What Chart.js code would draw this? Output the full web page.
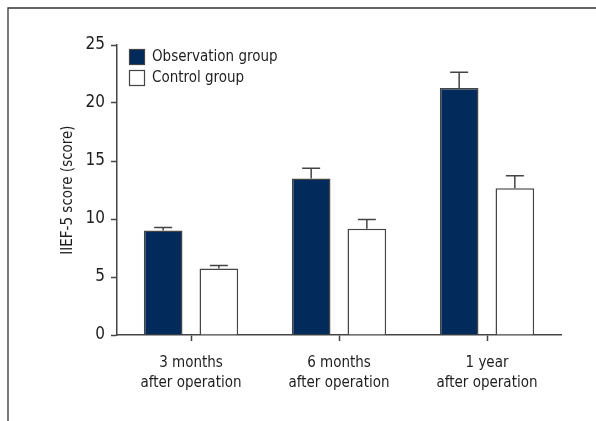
<!DOCTYPE html>
<html>
<head>
<meta charset="utf-8">
<script src="https://cdn.jsdelivr.net/npm/chart.js@4"></script>
<style>
  html, body { margin: 0; padding: 0; background: #fff; }
  #wrap { position: relative; width: 596px; height: 421px; }
</style>
</head>
<body>
<div id="wrap"><canvas id="c" width="596" height="421"></canvas></div>
<script>
const categories = [["3 months", "after operation"], ["6 months", "after operation"], ["1 year", "after operation"]];
const seriesNames = ["Observation group", "Control group"];
const observationValues = [9.0, 13.5, 21.3];
const observationErrors = [0.27, 0.87, 1.36];
const controlValues = [5.73, 9.15, 12.65];
const controlErrors = [0.26, 0.8, 1.07];
const yTicks = [0, 5, 10, 15, 20, 25];

const FONT = "'Liberation Sans Narrow', 'DejaVu Sans Condensed', 'Roboto Condensed', sans-serif";
const TEXT = '#1e1e1e';
const LINE = '#444';
const NAVY = '#022a5b';

const errorBars = {
  id: 'errorBars',
  afterDatasetsDraw(chart) {
    const ctx = chart.ctx;
    const y = chart.scales.y;
    ctx.save();
    ctx.strokeStyle = LINE;
    ctx.lineWidth = 1.5;
    chart.data.datasets.forEach((ds, di) => {
      const meta = chart.getDatasetMeta(di);
      meta.data.forEach((bar, i) => {
        const top = y.getPixelForValue(ds.data[i] + ds.errors[i]);
        const base = y.getPixelForValue(ds.data[i]);
        ctx.beginPath();
        ctx.moveTo(bar.x, base);
        ctx.lineTo(bar.x, top);
        ctx.moveTo(bar.x - 9, top);
        ctx.lineTo(bar.x + 9, top);
        ctx.stroke();
      });
    });
    ctx.restore();
  }
};

const frameAndLegend = {
  id: 'frameAndLegend',
  beforeDraw(chart) {
    const ctx = chart.ctx;
    ctx.save();
    ctx.fillStyle = '#fff';
    ctx.fillRect(0, 0, chart.width, chart.height);
    ctx.strokeStyle = '#333';
    ctx.lineWidth = 1.3;
    ctx.beginPath();
    ctx.moveTo(8, chart.height);
    ctx.lineTo(8, 8);
    ctx.lineTo(chart.width, 8);
    ctx.stroke();
    ctx.restore();
  },
  afterDraw(chart) {
    const ctx = chart.ctx;
    ctx.save();
    ctx.font = '15px ' + FONT;
    ctx.textBaseline = 'middle';
    ctx.textAlign = 'left';
    chart.data.datasets.forEach((ds, i) => {
      const bx = 129.5, by = 49.5 + i * 21;
      ctx.fillStyle = ds.backgroundColor;
      ctx.fillRect(bx, by, 15, 15);
      ctx.strokeStyle = LINE;
      ctx.lineWidth = 1.2;
      ctx.strokeRect(bx, by, 15, 15);
      ctx.fillStyle = TEXT;
      ctx.fillText(ds.label, 152, by + 7.5);
    });
    ctx.restore();
  }
};

new Chart(document.getElementById('c'), {
  type: 'bar',
  data: {
    labels: categories,
    datasets: [
      { label: seriesNames[0], data: observationValues, errors: observationErrors,
        backgroundColor: NAVY, borderColor: LINE, borderWidth: 1.5 },
      { label: seriesNames[1], data: controlValues, errors: controlErrors,
        backgroundColor: '#ffffff', borderColor: LINE, borderWidth: 1.5 }
    ]
  },
  options: {
    responsive: false,
    animation: false,
    devicePixelRatio: 1,
    layout: { padding: { left: 50, top: 45, right: 35, bottom: 0 } },
    datasets: { bar: { categoryPercentage: 0.7525, barPercentage: 0.694 } },
    plugins: { legend: { display: false }, tooltip: { enabled: false } },
    scales: {
      x: {
        afterFit(s) { s.height = 86; },
        grid: { offset: false, drawOnChartArea: false, tickLength: 6, tickColor: LINE, tickWidth: 1.5 },
        border: { color: LINE, width: 1.5 },
        ticks: { color: TEXT, padding: 12, font: { family: FONT, size: 15, lineHeight: 1.333 }, maxRotation: 0 }
      },
      y: {
        min: 0, max: 25,
        afterFit(s) { s.width = 67; },
        afterBuildTicks(s) { s.ticks = yTicks.map(v => ({ value: v })); },
        grid: { drawOnChartArea: false, tickLength: 6, tickColor: LINE, tickWidth: 1.5 },
        border: { color: LINE, width: 1.5 },
        ticks: { color: TEXT, padding: 6, font: { family: FONT, size: 17 } },
        title: { display: true, text: 'IIEF-5 score (score)', color: TEXT,
                 font: { family: FONT, size: 15, lineHeight: 1.2 }, padding: { top: 9, bottom: 0 } }
      }
    }
  },
  plugins: [frameAndLegend, errorBars]
});
</script>
</body>
</html>
